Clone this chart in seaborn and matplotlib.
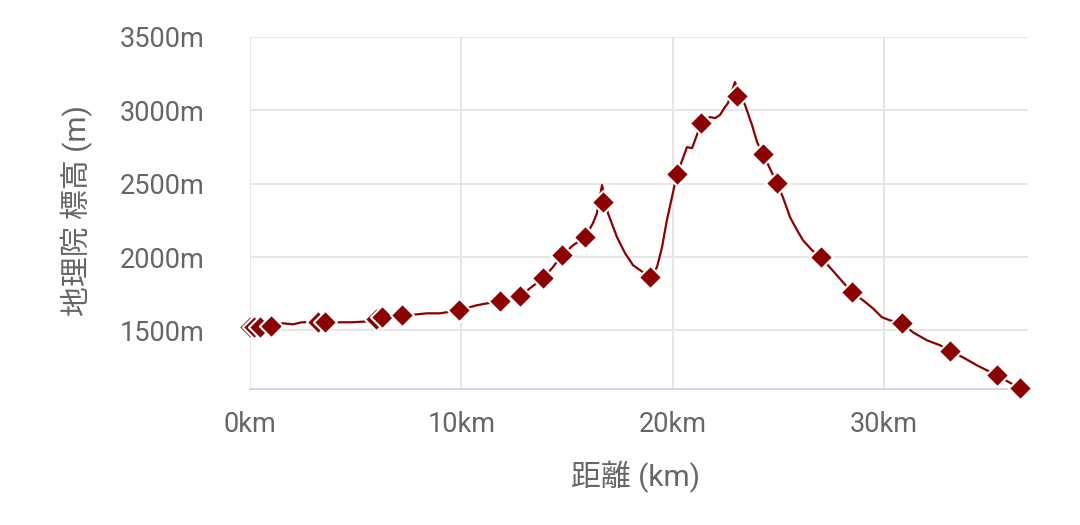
import numpy as np
import pandas as pd
import matplotlib
matplotlib.use("Agg")
import matplotlib.pyplot as plt
from matplotlib.ticker import FuncFormatter, FixedLocator
import seaborn as sns

# -----------------------------
#  Data
# -----------------------------
# elevation profile (distance km, elevation m)
profile_km = [
    0.0, 0.99, 1.56, 2.03, 2.46, 3.55, 4.26, 4.87, 5.54, 6.25, 7.19, 7.9, 8.38,
    8.99, 9.89, 10.74, 11.22, 11.83, 12.78, 13.25, 13.87, 14.29, 14.77, 15.29,
    15.85, 16.23, 16.42, 16.66, 16.94, 17.37, 17.75, 18.13, 18.46, 18.93, 19.26,
    19.5, 19.73, 19.97, 20.21, 20.49, 20.68, 20.92, 21.15, 21.34, 21.77, 22.01,
    22.24, 22.48, 22.62, 22.95, 23.43, 23.76, 24.0, 24.28, 24.94, 25.22, 25.56,
    25.89, 26.17, 26.6, 27.02, 27.69, 28.49, 29.01, 29.48, 29.91, 30.29, 30.86,
    31.38, 32.04, 32.66, 33.13, 33.74, 34.41, 34.88, 35.35, 36.44,
]
profile_m = [
    1520, 1527, 1548, 1541, 1555, 1555, 1555, 1555, 1561, 1589, 1602, 1609, 1616,
    1616, 1637, 1671, 1684, 1698, 1732, 1787, 1855, 1923, 2012, 2080,
    2135, 2230, 2299, 2490, 2299, 2135, 2026, 1944, 1910, 1862, 1930,
    2067, 2251, 2408, 2565, 2674, 2749, 2742, 2831, 2913, 2954, 2947,
    2968, 3022, 3049, 3193, 3036, 2899, 2783, 2701, 2503, 2408, 2271,
    2183, 2114, 2046, 1998, 1889, 1759, 1705, 1650, 1589, 1568, 1548,
    1486, 1432, 1398, 1357, 1316, 1261, 1227, 1193, 1104,
]

# waypoint markers
point_km = [0.0, 0.2, 0.45, 0.99, 3.2, 3.55, 5.95, 6.25, 7.19, 9.89, 11.83,
            12.78, 13.87, 14.77, 15.85, 16.71, 18.93, 20.21, 21.34, 23.05,
            24.28, 24.94, 27.02, 28.49, 30.86, 33.13, 35.35, 36.44]
point_m = [1520, 1520, 1522, 1527, 1555, 1555, 1575, 1589, 1602, 1637, 1698,
           1732, 1855, 2012, 2135, 2374, 1862, 2565, 2913, 3100,
           2701, 2503, 1998, 1759, 1548, 1357, 1193, 1104]

y_ticks = [1500, 2000, 2500, 3000, 3500]
x_ticks = [0, 10, 20, 30]

RED = "#8b0000"
TEXT = "#666666"
GRID = "#e6e6e6"
AXIS = "#ccd6eb"

sns.set_style("white")
plt.rcParams["font.family"] = ["Roboto", "Noto Sans CJK JP", "DejaVu Sans"]

profile = pd.DataFrame({"km": profile_km, "m": profile_m})
points = pd.DataFrame({"km": point_km, "m": point_m})

fig = plt.figure(figsize=(10.8, 5.25), dpi=100)
ax = fig.add_axes([250 / 1080, 1 - 389 / 525, 778 / 1080, 352 / 525])

sns.lineplot(data=profile, x="km", y="m", sort=False, estimator=None,
             color=RED, linewidth=1.6, ax=ax, zorder=2)
sns.scatterplot(data=points, x="km", y="m", marker="D", s=140, color=RED,
                edgecolor="white", linewidth=1.5, ax=ax, zorder=3,
                clip_on=False)

ax.set_xlim(0, 36.82)
ax.set_ylim(1100, 3500)

ax.xaxis.set_major_locator(FixedLocator(x_ticks))
ax.yaxis.set_major_locator(FixedLocator(y_ticks))
ax.yaxis.set_minor_locator(FixedLocator([1100]))
ax.xaxis.set_major_formatter(FuncFormatter(lambda v, p: f"{int(v)}km"))
ax.yaxis.set_major_formatter(FuncFormatter(lambda v, p: f"{int(v)}m"))

ax.grid(True, which="major", color=GRID, linewidth=1.4, zorder=0)
ax.set_axisbelow(True)
for side in ["top", "right", "left"]:
    ax.spines[side].set_visible(False)
ax.spines["bottom"].set_color(AXIS)
ax.spines["bottom"].set_linewidth(1.4)

ax.tick_params(axis="x", length=7.5, width=1.4, color=AXIS, pad=8,
               labelsize=19.5, labelcolor=TEXT)
ax.tick_params(axis="y", which="both", length=6, width=1.4, color=GRID,
               pad=27, labelsize=19.5, labelcolor=TEXT)
ax.tick_params(axis="y", which="minor", color=AXIS)

ax.set_xlabel("距離 (km)", fontsize=21.5, color=TEXT, va="center")
ax.set_ylabel("地理院 標高 (m)", fontsize=21.5, color=TEXT, va="center")
ax.xaxis.set_label_coords(0.496, -0.25)
ax.yaxis.set_label_coords(-0.222, 0.506)

fig.savefig("out.png", dpi=100)
